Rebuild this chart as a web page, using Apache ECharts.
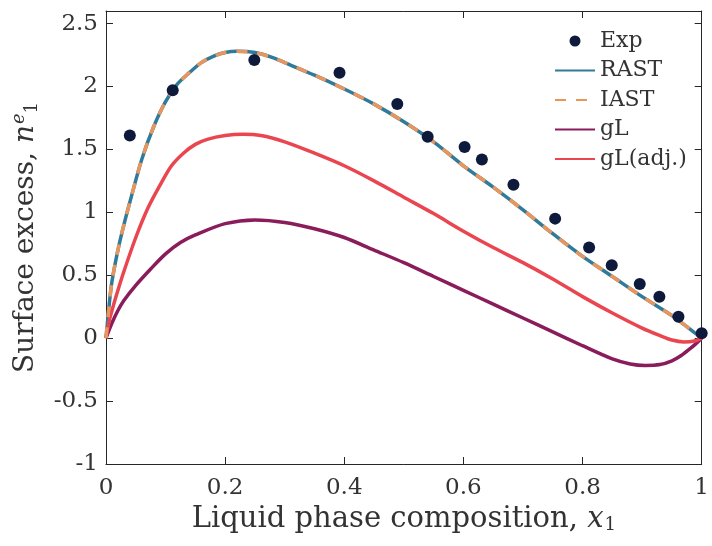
<!DOCTYPE html>
<html>
<head>
<meta charset="utf-8">
<script src="https://cdn.jsdelivr.net/npm/echarts@6/dist/echarts.min.js"></script>
<style>html,body{margin:0;padding:0;background:#fff}#c{width:712px;height:546px}</style>
</head>
<body>
<div id="c"></div>
<script>
// Experimental points [x1, n1e]
const expX = [0.040, 0.112, 0.249, 0.392, 0.489, 0.540, 0.602, 0.631, 0.684, 0.754, 0.811, 0.849, 0.896, 0.929, 0.961, 1.000];
const expY = [1.61, 1.97, 2.21, 2.11, 1.86, 1.60, 1.52, 1.42, 1.22, 0.95, 0.72, 0.58, 0.43, 0.33, 0.17, 0.04];

// RAST / IAST model curve (practically identical)
const rastX = [0, 0.005, 0.01, 0.02, 0.03, 0.04, 0.06, 0.08, 0.10, 0.12, 0.14, 0.16, 0.18, 0.20, 0.22, 0.25, 0.28, 0.30, 0.35, 0.40, 0.45, 0.50, 0.55, 0.60, 0.65, 0.70, 0.75, 0.80, 0.85, 0.90, 0.95, 0.97, 1.00];
const rastY = [0, 0.25, 0.45, 0.70, 0.90, 1.08, 1.42, 1.68, 1.88, 2.02, 2.11, 2.19, 2.24, 2.27, 2.28, 2.27, 2.23, 2.19, 2.09, 1.98, 1.86, 1.72, 1.56, 1.37, 1.20, 1.02, 0.83, 0.65, 0.49, 0.33, 0.18, 0.11, 0];
const iastY = [0, 0.25, 0.45, 0.70, 0.90, 1.08, 1.42, 1.68, 1.88, 2.02, 2.11, 2.19, 2.24, 2.27, 2.28, 2.27, 2.23, 2.19, 2.09, 1.98, 1.86, 1.72, 1.56, 1.37, 1.20, 1.02, 0.83, 0.65, 0.49, 0.33, 0.18, 0.11, 0];

// gL model
const glX = [0, 0.01, 0.02, 0.03, 0.05, 0.075, 0.10, 0.125, 0.15, 0.20, 0.25, 0.30, 0.35, 0.40, 0.45, 0.50, 0.55, 0.60, 0.65, 0.70, 0.75, 0.80, 0.85, 0.88, 0.905, 0.93, 0.95, 0.965, 0.98, 0.99, 1.00];
const glY = [0, 0.12, 0.22, 0.30, 0.42, 0.55, 0.67, 0.76, 0.82, 0.91, 0.94, 0.92, 0.87, 0.80, 0.70, 0.60, 0.49, 0.38, 0.27, 0.16, 0.05, -0.06, -0.165, -0.205, -0.217, -0.21, -0.18, -0.14, -0.085, -0.045, 0];

// gL (adjusted) model
const gladjX = [0, 0.005, 0.01, 0.02, 0.03, 0.05, 0.07, 0.09, 0.11, 0.13, 0.15, 0.17, 0.20, 0.23, 0.26, 0.30, 0.35, 0.40, 0.45, 0.50, 0.55, 0.60, 0.65, 0.70, 0.75, 0.80, 0.85, 0.90, 0.93, 0.95, 0.97, 0.99, 1.00];
const gladjY = [0, 0.13, 0.22, 0.38, 0.53, 0.80, 1.03, 1.21, 1.37, 1.47, 1.54, 1.58, 1.61, 1.62, 1.61, 1.56, 1.47, 1.37, 1.25, 1.12, 0.99, 0.85, 0.72, 0.60, 0.47, 0.33, 0.20, 0.08, 0.02, -0.015, -0.03, -0.02, 0];

const xTicks = [0, 0.2, 0.4, 0.6, 0.8, 1];
const yTicks = [-1, -0.5, 0, 0.5, 1, 1.5, 2, 2.5];

const zip = (xs, ys) => xs.map((x, i) => [x, ys[i]]);
const FONT = 'DejaVu Serif';
const TXT = '#333';
const AX = '#262626';

const chart = echarts.init(document.getElementById('c'), null, {renderer: 'canvas'});
const fmt = v => {
  const r = Math.round(v * 100) / 100;
  return yTicks.concat(xTicks).some(t => Math.abs(t - r) < 1e-9) ? String(r) : '';
};
const axisCommon = () => ({
  axisLine: {show: true, onZero: false, lineStyle: {color: AX, width: 1}},
  axisTick: {show: true, inside: true, length: 7, lineStyle: {color: AX, width: 1}},
  splitLine: {show: false}
});
chart.setOption({
  animation: false,
  backgroundColor: '#ffffff',
  grid: {left: 106, right: 7, top: 11, bottom: 82, containLabel: false},
  legend: {
    left: 549, top: 25, orient: 'vertical', itemWidth: 40, itemHeight: 11, itemGap: 7.5,
    textStyle: {fontFamily: FONT, fontSize: 22, lineHeight: 22, color: TXT, padding: [0, 0, 0, 0]},
    itemStyle: {opacity: 0},
    data: [
      {name: 'Exp', icon: 'circle', itemStyle: {opacity: 1, color: '#0e1a3c'}},
      'RAST', 'IAST', 'gL', 'gL(adj.)'
    ]
  },
  xAxis: [
    Object.assign({type: 'value', min: 0, max: 1, interval: 0.2, position: 'bottom',
      name: '{t|Liquid phase composition, }{i|x}{s|1}', nameLocation: 'middle', nameGap: 13,
      nameTextStyle: {rich: {
        t: {fontFamily: FONT, fontSize: 29, color: TXT},
        i: {fontFamily: FONT, fontSize: 29, fontStyle: 'italic', color: TXT},
        s: {fontFamily: FONT, fontSize: 18, color: TXT, padding: [12, 0, 0, 1]}
      }},
      axisLabel: {fontFamily: FONT, fontSize: 23, color: TXT, margin: 13, formatter: fmt}
    }, axisCommon()),
    Object.assign({type: 'value', min: 0, max: 1, interval: 0.2, position: 'top', axisLabel: {show: false}}, axisCommon())
  ],
  yAxis: [
    Object.assign({type: 'value', min: -1, max: 2.6, interval: 0.5, position: 'left',
      name: '{t|Surface excess, }{i|n}{p|e}{s|1}', nameLocation: 'middle', nameGap: 64, nameRotate: 90,
      nameTextStyle: {rich: {
        t: {fontFamily: FONT, fontSize: 28, color: TXT},
        i: {fontFamily: FONT, fontSize: 28, fontStyle: 'italic', color: TXT},
        p: {fontFamily: FONT, fontSize: 18, fontStyle: 'italic', color: TXT, padding: [0, 0, 14, 1]},
        s: {fontFamily: FONT, fontSize: 18, color: TXT, padding: [12, 0, 0, 0]}
      }},
      axisLabel: {fontFamily: FONT, fontSize: 23, color: TXT, margin: 8, formatter: fmt}
    }, axisCommon()),
    Object.assign({type: 'value', min: -1, max: 2.6, interval: 0.5, position: 'right', axisLabel: {show: false}}, axisCommon())
  ],
  series: [
    {name: 'RAST', type: 'line', data: zip(rastX, rastY), smooth: 0.3, symbol: 'none',
      lineStyle: {color: '#2f7b99', width: 3.5}, itemStyle: {color: '#2f7b99'}, z: 2},
    {name: 'IAST', type: 'line', data: zip(rastX, iastY), smooth: 0.3, symbol: 'none',
      lineStyle: {color: '#e8955e', width: 3.5, type: [11, 10]}, itemStyle: {color: '#e8955e'}, z: 3},
    {name: 'gL', type: 'line', data: zip(glX, glY), smooth: 0.3, symbol: 'none',
      lineStyle: {color: '#8a1c5c', width: 3.5}, itemStyle: {color: '#8a1c5c'}, z: 2},
    {name: 'gL(adj.)', type: 'line', data: zip(gladjX, gladjY), smooth: 0.3, symbol: 'none',
      lineStyle: {color: '#ea4650', width: 3.5}, itemStyle: {color: '#ea4650'}, z: 2},
    {name: 'Exp', type: 'scatter', data: zip(expX, expY), symbol: 'circle', symbolSize: 12,
      itemStyle: {color: '#0e1a3c', opacity: 1}, z: 5}
  ]
});
</script>
</body>
</html>
